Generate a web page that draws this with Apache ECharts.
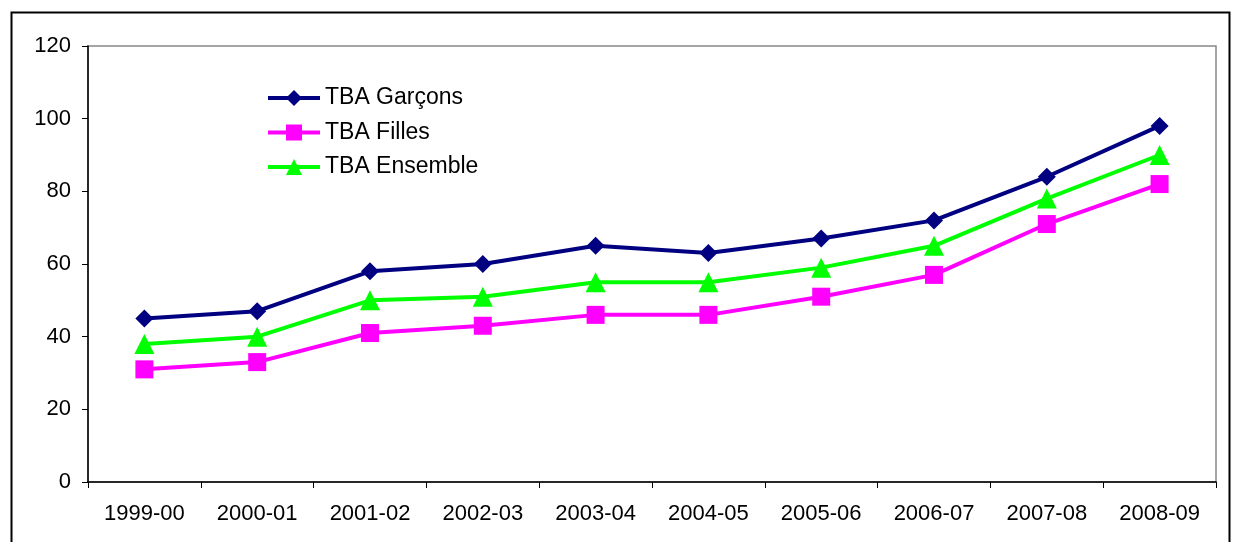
<!DOCTYPE html>
<html>
<head>
<meta charset="utf-8">
<script src="https://cdn.jsdelivr.net/npm/echarts@6/dist/echarts.min.js"></script>
<style>html,body{margin:0;padding:0;background:#fff}#c{width:1233px;height:542px}</style>
</head>
<body>
<div id="c"></div>
<script>
var categories = ['1999-00','2000-01','2001-02','2002-03','2003-04','2004-05','2005-06','2006-07','2007-08','2008-09'];
var garcons = [45, 47, 58, 60, 65, 63, 67, 72, 84, 98];
var filles = [31, 33, 41, 43, 46, 46, 51, 57, 71, 82];
var ensemble = [38, 40, 50, 51, 55, 55, 59, 65, 78, 90];
var seriesNames = ['TBA Garçons', 'TBA Filles', 'TBA Ensemble'];

var chart = echarts.init(document.getElementById('c'));
var font = 'Liberation Sans, Arial, sans-serif';
chart.setOption({
  animation: false,
  graphic: [{
    type: 'rect', shape: {x: 11.5, y: 12.5, width: 1218, height: 600},
    style: {fill: 'none', stroke: '#000', lineWidth: 2}, z: -1
  }],
  grid: {left: 88, right: 17, top: 46, bottom: 60, show: true, borderColor: '#888', borderWidth: 1.5, backgroundColor: 'transparent'},
  legend: {
    orient: 'vertical', left: 261, top: 81, itemWidth: 52, itemHeight: 20, itemGap: 10.5,
    lineStyle: {width: 4},
    textStyle: {fontFamily: font, fontSize: 23, color: '#000', lineHeight: 24},
    data: seriesNames
  },
  xAxis: {
    type: 'category', data: categories, boundaryGap: true,
    axisLine: {lineStyle: {color: '#000', width: 1.5}},
    axisTick: {show: true, length: 6, lineStyle: {color: '#000'}, interval: 0},
    axisLabel: {fontFamily: font, fontSize: 22, color: '#000', margin: 21, interval: 0},
    splitLine: {show: false}
  },
  yAxis: {
    type: 'value', min: 0, max: 120, interval: 20,
    axisLine: {show: true, lineStyle: {color: '#000', width: 1.5}},
    axisTick: {show: true, length: 6, lineStyle: {color: '#000'}},
    axisLabel: {fontFamily: font, fontSize: 22, color: '#000', margin: 17},
    splitLine: {show: false}
  },
  series: [
    {name: seriesNames[0], type: 'line', data: garcons, symbol: 'diamond', symbolSize: 18,
     itemStyle: {color: '#000080'}, lineStyle: {color: '#000080', width: 4}},
    {name: seriesNames[1], type: 'line', data: filles, symbol: 'rect', symbolSize: 18,
     itemStyle: {color: '#FF00FF'}, lineStyle: {color: '#FF00FF', width: 4}},
    {name: seriesNames[2], type: 'line', data: ensemble, symbol: 'triangle', symbolSize: 20,
     itemStyle: {color: '#00FF00'}, lineStyle: {color: '#00FF00', width: 4}}
  ]
});
</script>
</body>
</html>
